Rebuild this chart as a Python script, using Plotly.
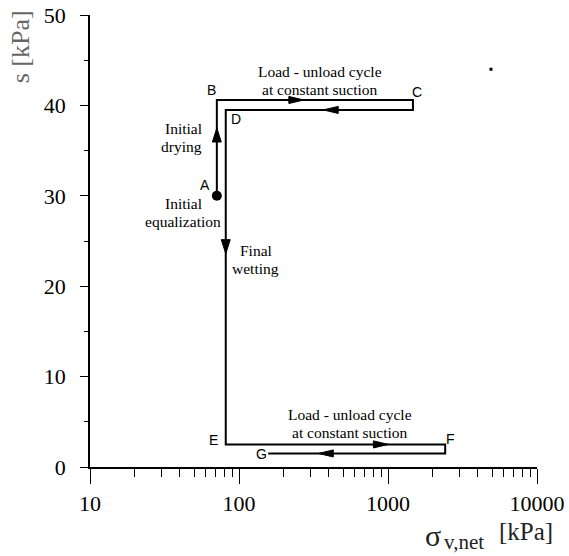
import math
import plotly.graph_objects as go

# ---------------- data ----------------
# stress path (sigma_v,net [kPa], s [kPa])
path_sigma = [71, 71, 1470, 1470, 81.5, 81.5, 2420, 2420, 157]
path_s = [30, 40.6, 40.6, 39.5, 39.5, 2.5, 2.5, 1.5, 1.5]

# starting point A
start_sigma = [71]
start_s = [30]

# stray dot in the figure
dot_sigma = [4910]
dot_s = [44.0]

# arrow tips along the path
arrow_sigma = [71, 272, 368, 81.5, 1005, 341]
arrow_s = [37.5, 40.6, 39.5, 23.6, 2.5, 1.5]
arrow_dir = ["up", "right", "left", "down", "right", "left"]

# point letters
letter_text = ["A", "B", "C", "D", "E", "F", "G"]
letter_sigma = [59.2, 64.9, 1560, 95.5, 67.2, 2636, 142]
letter_s = [31.2, 41.7, 41.5, 38.5, 3.0, 3.1, 1.44]

# explanatory notes (one entry per note, lines split by <br>)
note_text = ["Load - unload cycle<br>at constant suction",
             "Load - unload cycle<br>at constant suction",
             "Initial<br>drying",
             "Initial<br>equalization",
             "Final<br>wetting"]
note_sigma = [350, 556, 58, 42.1, 130]
note_s = [42.75, 4.83, 36.5, 28.15, 23.0]
note_anchor = ["center", "center", "right", "center", "center"]

x_tickvals = [10, 100, 1000, 10000]
x_ticktext = ["10", "100", "1000", "10000"]
x_minor = [m * 10 ** e for e in (1, 2, 3) for m in range(2, 10)]
y_tickvals = [0, 10, 20, 30, 40, 50]

# ---------------- style constants ----------------
SERIF = "Liberation Serif, Times New Roman, serif"
SANS = "Liberation Sans, Arial, sans-serif"
ARROW_LEN_DEC = 0.10     # horizontal arrow length in decades
ARROW_HW_S = 0.39        # horizontal arrow half width in kPa
ARROW_LEN_S = 1.55       # vertical arrow length in kPa
ARROW_HW_DEC = 0.030     # vertical arrow half width in decades
NOTE_LINE_PX = 18

fig = go.Figure()

fig.add_trace(go.Scatter(
    x=path_sigma, y=path_s, mode="lines",
    line=dict(color="black", width=2), showlegend=False, hoverinfo="skip"))

# arrowheads as filled triangles
ax, ay = [], []
for xs, ys, d in zip(arrow_sigma, arrow_s, arrow_dir):
    lx = math.log10(xs)
    if d in ("right", "left"):
        sgn = 1 if d == "right" else -1
        bx = 10 ** (lx - sgn * ARROW_LEN_DEC)
        ax += [xs, bx, bx, xs, None]
        ay += [ys, ys + ARROW_HW_S, ys - ARROW_HW_S, ys, None]
    else:
        sgn = 1 if d == "up" else -1
        by = ys - sgn * ARROW_LEN_S
        ax += [xs, 10 ** (lx - ARROW_HW_DEC), 10 ** (lx + ARROW_HW_DEC), xs, None]
        ay += [ys, by, by, ys, None]
fig.add_trace(go.Scatter(
    x=ax, y=ay, mode="lines", fill="toself", fillcolor="black",
    line=dict(color="black", width=1), showlegend=False, hoverinfo="skip"))

fig.add_trace(go.Scatter(
    x=start_sigma, y=start_s, mode="markers",
    marker=dict(color="black", size=10, symbol="circle"),
    showlegend=False, hoverinfo="skip"))

fig.add_trace(go.Scatter(
    x=dot_sigma, y=dot_s, mode="markers",
    marker=dict(color="black", size=3, symbol="square"),
    showlegend=False, hoverinfo="skip"))

for t, xs, ys in zip(letter_text, letter_sigma, letter_s):
    fig.add_annotation(x=math.log10(xs), y=ys, xref="x", yref="y", text=t,
                       showarrow=False, xanchor="center", yanchor="middle",
                       font=dict(family=SANS, size=14, color="black"))

for t, xs, ys, anc in zip(note_text, note_sigma, note_s, note_anchor):
    lines = t.split("<br>")
    n = len(lines)
    for i, ln in enumerate(lines):
        fig.add_annotation(x=math.log10(xs), y=ys, xref="x", yref="y", text=ln,
                           showarrow=False, xanchor=anc, yanchor="middle",
                           yshift=((n - 1) / 2 - i) * NOTE_LINE_PX,
                           font=dict(family=SERIF, size=15.5, color="black"))

# axis titles
fig.add_annotation(x=-0.155, y=0.930, xref="paper", yref="paper",
                   text="s [kPa]", textangle=-90, showarrow=False,
                   xanchor="center", yanchor="middle",
                   font=dict(family=SERIF, size=26, color="#666666"))
fig.add_annotation(x=0.745, y=-0.1505, xref="paper", yref="paper", text="σ",
                   showarrow=False, xanchor="left", yanchor="middle",
                   font=dict(family=SERIF, size=30, color="#222222"))
fig.add_annotation(x=0.7875, y=-0.166, xref="paper", yref="paper", text="v,net",
                   showarrow=False, xanchor="left", yanchor="middle",
                   font=dict(family=SERIF, size=21, color="#222222"))
fig.add_annotation(x=0.9105, y=-0.1416, xref="paper", yref="paper", text="[kPa]",
                   showarrow=False, xanchor="left", yanchor="middle",
                   font=dict(family=SERIF, size=25, color="#222222"))

fig.update_xaxes(
    type="log", range=[1, 4], showgrid=False, zeroline=False, automargin=False,
    showline=True, linecolor="black", linewidth=1.5,
    tickmode="array", tickvals=x_tickvals, ticktext=x_ticktext,
    ticks="outside", ticklen=15, tickwidth=1.2, tickcolor="black",
    ticklabelstandoff=1,
    tickfont=dict(family=SERIF, size=22, color="black"),
    minor=dict(tickmode="array", tickvals=x_minor, ticks="outside",
               ticklen=8, tickwidth=1.2, tickcolor="black", showgrid=False))

fig.update_yaxes(
    range=[0, 50], showgrid=False, zeroline=False, automargin=False,
    showline=True, linecolor="black", linewidth=1.5,
    tickmode="array", tickvals=y_tickvals,
    ticks="outside", ticklen=8, tickwidth=1.2, tickcolor="black",
    ticklabelstandoff=10,
    tickfont=dict(family=SERIF, size=22, color="black"),
    minor=dict(dtick=5, tick0=0, ticks="outside", ticklen=4,
               tickwidth=1.2, tickcolor="black", showgrid=False))

fig.update_layout(
    width=569, height=556, autosize=False,
    margin=dict(l=90, r=32, t=15, b=89),
    plot_bgcolor="white", paper_bgcolor="white",
    showlegend=False)

fig.write_html("out.html", config={"displayModeBar": False},
               post_script="document.body.style.margin='0';document.body.style.padding='0';")
